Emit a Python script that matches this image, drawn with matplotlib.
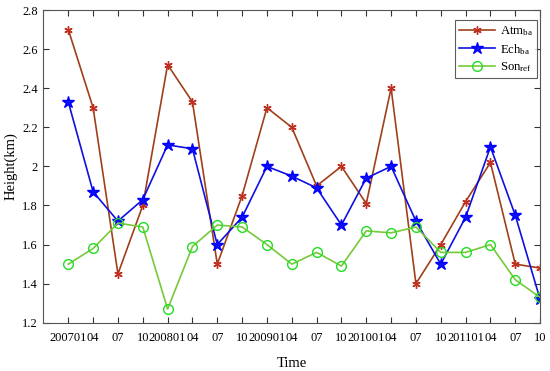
import matplotlib
matplotlib.use("Agg")
import matplotlib.pyplot as plt
import matplotlib.ticker as ticker

plt.rcParams['font.family'] = ['Liberation Serif', 'DejaVu Serif']
plt.rcParams['mathtext.fontset'] = 'custom'
plt.rcParams['mathtext.rm'] = 'Liberation Serif'
plt.rcParams['mathtext.it'] = 'Liberation Serif'

# quarterly samples 2007-01 .. 2011-10
tick_labels = ['200701', '04', '07', '10',
               '200801', '04', '07', '10',
               '200901', '04', '07', '10',
               '201001', '04', '07', '10',
               '201101', '04', '07', '10']
atm_ba = [2.70, 2.30, 1.45, 1.80, 2.52, 2.33, 1.50, 1.85, 2.30, 2.20,
          1.90, 2.00, 1.81, 2.40, 1.40, 1.60, 1.82, 2.02, 1.50, 1.48]
ech_ba = [2.33, 1.87, 1.72, 1.83, 2.11, 2.09, 1.60, 1.74, 2.00, 1.95,
          1.89, 1.70, 1.94, 2.00, 1.72, 1.50, 1.74, 2.10, 1.75, 1.32]
son_ref = [1.50, 1.58, 1.71, 1.69, 1.27, 1.59, 1.70, 1.69, 1.60, 1.50,
           1.56, 1.49, 1.67, 1.66, 1.69, 1.56, 1.56, 1.60, 1.42, 1.33]

x = list(range(1, len(tick_labels) + 1))

fig = plt.figure(figsize=(5.5, 3.71), dpi=100)
ax = fig.add_axes([0.079, 0.13, 0.903, 0.843])

ax.plot(x, atm_ba, color='#a0401a', linewidth=1.2,
        marker=(6, 2, 0), markersize=6, markeredgecolor='#c03020',
        markeredgewidth=1.0, label='Atm$_{\\mathrm{ba}}$')
ax.plot(x, ech_ba, color='#1010e0', linewidth=1.2,
        marker='*', markersize=9, markerfacecolor='#1010f0',
        markeredgecolor='#0000ff', label='Ech$_{\\mathrm{ba}}$')
ax.plot(x, son_ref, color='#77c93a', linewidth=1.2,
        marker='o', markersize=7, markerfacecolor='none',
        markeredgecolor='#22dd22', markeredgewidth=1.0,
        label='Son$_{\\mathrm{ref}}$')

ax.set_xlim(0, 20)
ax.set_ylim(1.2, 2.8)
ax.set_xticks(x)
ax.set_xticklabels(tick_labels)
ax.yaxis.set_major_locator(ticker.MultipleLocator(0.2))
ax.yaxis.set_major_formatter(ticker.FuncFormatter(lambda v, p: '%g' % round(v, 2)))

ax.tick_params(direction='in', top=True, right=True, length=4,
               width=0.8, color='#333333', labelsize=8.9)
ax.tick_params(axis='x', pad=7)
ax.tick_params(axis='y', pad=4)
for s in ax.spines.values():
    s.set_color('#555555')
    s.set_linewidth(0.8)

ax.set_xlabel('Time', fontsize=10.5, labelpad=9)
ax.set_ylabel('Height(km)', fontsize=10.5, labelpad=3)

leg = ax.legend(loc='upper right', bbox_to_anchor=(0.993, 0.967),
                fontsize=9.2, frameon=True, fancybox=False,
                edgecolor='#333333', handlelength=2.8, borderpad=0.3,
                labelspacing=0.3, handletextpad=0.4, borderaxespad=0)
leg.get_frame().set_linewidth(0.8)

plt.savefig('out.png', dpi=100)
plt.close()
